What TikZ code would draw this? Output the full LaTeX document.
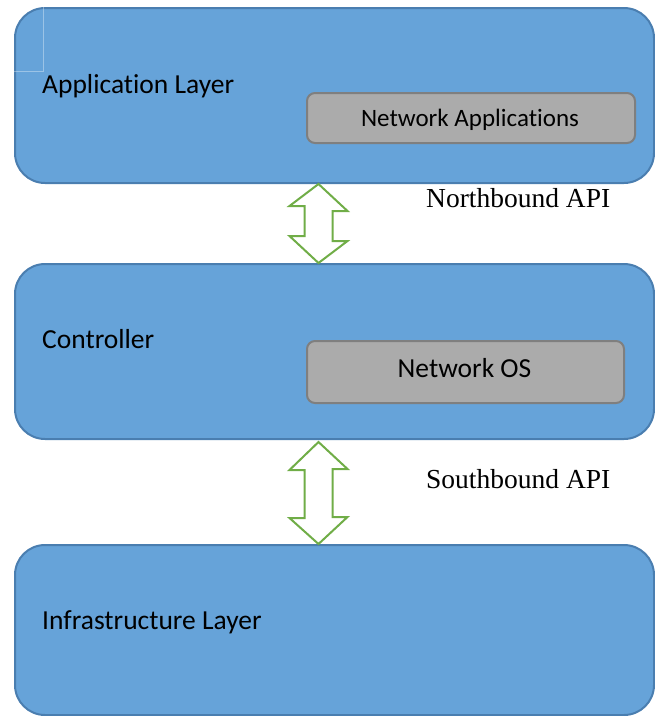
\documentclass[tikz,border=0pt]{standalone}
\usepackage{fontspec}
\setmainfont{Carlito}[Ligatures=NoCommon]
\newfontfamily\serifapi{Liberation Serif}
\definecolor{layerfill}{HTML}{66A3D9}
\definecolor{layeredge}{HTML}{4A7EB0}
\definecolor{modfill}{HTML}{ABABAB}
\definecolor{modedge}{HTML}{7F7F7F}
\definecolor{apigreen}{HTML}{70AD47}
\tikzset{
  layer/.style={draw=layeredge, fill=layerfill, line width=2pt, rounded corners=30pt,
    minimum width=639pt, inner sep=0pt},
  module/.style={draw=modedge, fill=modfill, line width=2pt, rounded corners=8pt, inner sep=0pt},
  layertext/.style={anchor=base west, font=\fontsize{27.5}{32}\selectfont, inner sep=0pt},
  apitext/.style={anchor=base west, font=\serifapi\fontsize{27.5}{32}\selectfont, inner sep=0pt},
  apiarrow/.style={draw=apigreen, fill=white, line width=2pt, line join=miter}
}
\begin{document}
\begin{tikzpicture}[x=1pt, y=-1pt]
\useasboundingbox (0,0) rectangle (655,716);
% layers
\node[layer, minimum height=175pt, anchor=north west] (app) at (14,7) {};
\node[layer, minimum height=175pt, anchor=north west] (ctrl) at (14,263) {};
\node[layer, minimum height=170pt, anchor=north west] (infra) at (14,544) {};
% faint frame in the top-left corner of the application layer
\draw[white, opacity=0.35, line width=0.8pt] (app.north west) ++(29,0) -- ++(0,64) -- ++(-29,0);
% modules
\node[module, minimum width=328pt, minimum height=50pt, anchor=north west] (apps) at (306,92) {};
\node[module, minimum width=317pt, minimum height=62pt, anchor=north west] (nos) at (306,340) {};
% labels
\node[layertext] (lapp) at (42,93) {Application Layer};
\node[layertext] (lctrl) at (42,348) {Controller};
\node[layertext] (linfra) at (42,629) {Infrastructure Layer};
\node[anchor=base, font=\fontsize{25}{30}\selectfont, inner sep=0pt] (lapps) at (470,126.5) {Network Applications};
\node[anchor=base, font=\fontsize{27.5}{32}\selectfont, inner sep=0pt] (lnos) at (464.5,377) {Network OS};
\node[apitext] (north) at (426,207.5) {Northbound API};
\node[apitext] (south) at (426,488) {Southbound API};
% double arrows between layers
\path (318.5,0) coordinate (axis);
\draw[apiarrow] (axis |- app.south) -- ++(29,27) -- ++(-15,0) -- ++(0,30) -- ++(15,0)
  -- (axis |- ctrl.north) -- ++(-29,-27) -- ++(15,0) -- ++(0,-30) -- ++(-15,0) -- cycle;
\draw[apiarrow] (axis |- ctrl.south) ++(0,2) -- ++(29,27) -- ++(-15,0) -- ++(0,48) -- ++(15,0)
  -- (axis |- infra.north) -- ++(-29,-26) -- ++(15,0) -- ++(0,-48) -- ++(-15,0) -- cycle;
\end{tikzpicture}
\end{document}
